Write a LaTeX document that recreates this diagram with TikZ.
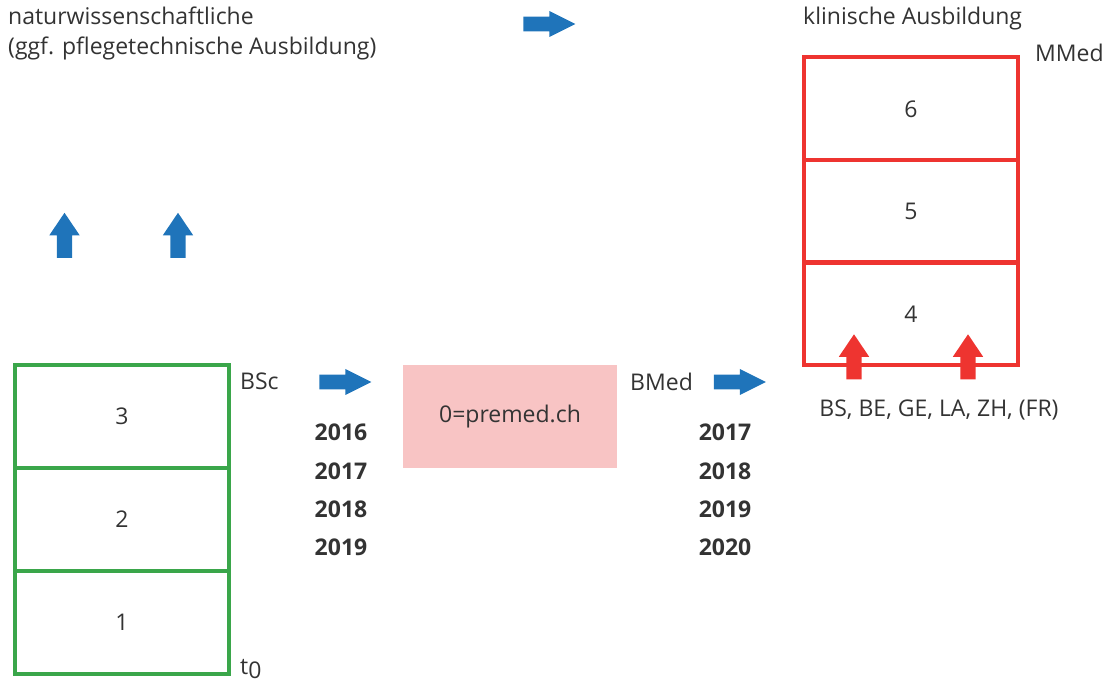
\documentclass[tikz,border=0pt]{standalone}
\usepackage{fontspec}
\setmainfont{Open Sans}
\usetikzlibrary{shapes.arrows}
\definecolor{arrblue}{HTML}{1F74BA}
\definecolor{bscgreen}{HTML}{3AA64A}
\definecolor{medred}{HTML}{EE3430}
\definecolor{premedpink}{HTML}{F8C4C4}
\definecolor{txtgray}{HTML}{333333}

\begin{document}
\begin{tikzpicture}[x=1pt, y=-1pt, font=\fontsize{23}{28}\selectfont, text=txtgray,
  box/.style={minimum width=214pt, minimum height=103pt, inner sep=0pt},
  cell/.style={box, draw, line width=4pt},
  lab/.style={inner sep=0pt, anchor=base west},
  year/.style={inner sep=0pt, anchor=base, font=\fontsize{23}{28}\selectfont\bfseries},
  rightarr/.style={single arrow, fill=arrblue, inner xsep=0pt, inner ysep=7pt,
    minimum height=52pt, minimum width=26pt, single arrow head extend=5.5pt,
    single arrow tip angle=53},
  uparr/.style={single arrow, inner xsep=0pt, inner ysep=7.5pt, minimum height=45pt,
    minimum width=30pt, single arrow head extend=7.5pt, single arrow tip angle=68,
    rotate=90}]
\useasboundingbox (0,0) rectangle (1109,684);

% Texts at the top
\node[lab] (natw) at (8,25) {naturwissenschaftliche};
\node[lab] (pflege) at (8,55) {(ggf. pflegetechnische Ausbildung)};
\node[lab] (klin) at (803,25) {klinische Ausbildung};
\node[rightarr] (toparr) at (542,24) {};

% Bachelor: years 1 to 3
\foreach \i/\y in {1/622.5, 2/519.5, 3/416.5} {
  \node[cell, draw=bscgreen] (bsc\i) at (122,\y) {\i};
}
\node[lab] (bsclab) at (240,390) {BSc};
\node[lab] (tnull) at (240,674) {t\raisebox{-4pt}{0}};
\node[uparr, fill=arrblue] (upa) at (64.5,241) {};
\node[uparr, fill=arrblue] (upb) at (178,241) {};

% premed year 0
\node[rightarr] (arra) at (338,382) {};
\node[box, fill=premedpink] (premed) at (510,416.5) {0=premed.ch};
\node[lab] (bmedlab) at (630,391) {BMed};
\node[rightarr] (arrb) at (732.5,382) {};

% Years
\foreach \yr [count=\i] in {2016,2017,2018,2019} {
  \node[year] (ya\i) at (341,403+38*\i) {\yr};
}
\foreach \yr [count=\i] in {2017,2018,2019,2020} {
  \node[year] (yb\i) at (725,403+38*\i) {\yr};
}

% Master: years 4 to 6
\foreach \i/\y in {4/314, 5/211.5, 6/109} {
  \node[cell, draw=medred] (mmed\i) at (911,\y) {\i};
}
\node[lab] (mmedlab) at (1035,62) {MMed};
\node[uparr, fill=medred] (upc) at (854,362.5) {};
\node[uparr, fill=medred] (upd) at (968,362.5) {};
\node[inner sep=0pt, anchor=base] (orte) at (939,417) {BS, BE, GE, LA, ZH, (FR)};

\end{tikzpicture}
\end{document}
